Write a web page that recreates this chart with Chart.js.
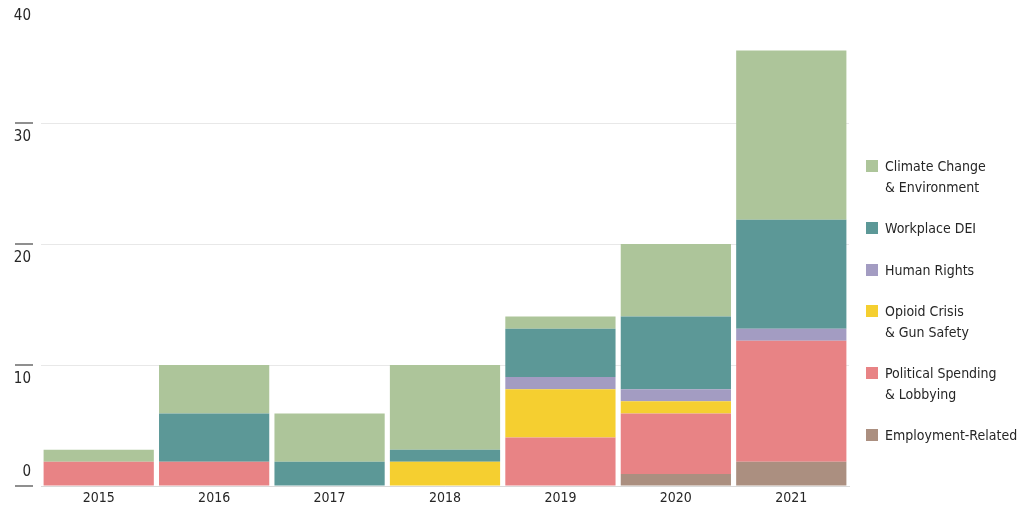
<!DOCTYPE html>
<html>
<head>
<meta charset="utf-8">
<script src="https://cdn.jsdelivr.net/npm/chart.js@4/dist/chart.umd.min.js"></script>
<style>
  html, body { margin: 0; padding: 0; background: #ffffff; }
  #wrap { position: relative; width: 1024px; height: 512px; overflow: hidden; }
  #legend { position: absolute; left: 866px; top: 156px; font-family: "Liberation Sans Narrow", "DejaVu Sans Condensed", "Roboto", sans-serif; font-size: 14px; line-height: 20.5px; color: #262626; white-space: nowrap; }
  .item { display: flex; align-items: flex-start; margin-bottom: 21px; }
  .box { width: 12px; height: 12px; margin-top: 4px; margin-right: 7px; flex: none; }
</style>
</head>
<body>
<div id="wrap">
  <canvas id="c"></canvas>
  <div id="legend"></div>
</div>
<script>
const years = ['2015', '2016', '2017', '2018', '2019', '2020', '2021'];
const yTicks = [0, 10, 20, 30, 40];

const employment = [0, 0, 0, 0, 0, 1, 2];
const political  = [2, 2, 0, 0, 4, 5, 10];
const opioid     = [0, 0, 0, 2, 4, 1, 0];
const humanRights= [0, 0, 0, 0, 1, 1, 1];
const dei        = [0, 4, 2, 1, 4, 6, 9];
const climate    = [1, 4, 4, 7, 1, 6, 14];

const seriesLabels = ['Employment-Related', 'Political Spending\n& Lobbying', 'Opioid Crisis\n& Gun Safety', 'Human Rights', 'Workplace DEI', 'Climate Change\n& Environment'];
const seriesColors = ['#ab8f80', '#e88385', '#f5cf30', '#a39cc2', '#5c9897', '#adc59a'];
const seriesData = [employment, political, opioid, humanRights, dei, climate];

const FONT = '"Liberation Sans Narrow", "DejaVu Sans Condensed", Roboto, sans-serif';

const datasets = seriesData.map((d, i) => ({
  label: seriesLabels[i],
  data: d,
  backgroundColor: seriesColors[i],
  borderWidth: 0,
  barPercentage: 0.955,
  categoryPercentage: 1.0
}));

const tickDashes = {
  id: 'tickDashes',
  afterDraw(chart) {
    const ys = chart.scales.y;
    const ctx = chart.ctx;
    const left = chart.chartArea.left;
    ctx.save();
    ctx.strokeStyle = '#8f8f8f';
    ctx.lineWidth = 2;
    ys.ticks.forEach((t) => {
      if (t.value === 40) return;
      const y = ys.getPixelForValue(t.value);
      ctx.beginPath();
      ctx.moveTo(left - 26, y);
      ctx.lineTo(left - 8, y);
      ctx.stroke();
    });
    ctx.restore();
  }
};

const chart = new Chart(document.getElementById('c'), {
  type: 'bar',
  data: { labels: years, datasets },
  plugins: [tickDashes],
  options: {
    responsive: true,
    maintainAspectRatio: false,
    animation: false,
    layout: { padding: { left: 0, right: 175, top: 2, bottom: 0 } },
    plugins: { legend: { display: false }, tooltip: { enabled: false } },
    scales: {
      x: {
        stacked: true,
        grid: { display: false, drawTicks: false },
        border: { display: true, color: '#d9d9d9', width: 1 },
        ticks: { color: '#262626', font: { family: FONT, size: 14 }, padding: 4 },
        afterFit(s) { s.height = 26; }
      },
      y: {
        stacked: true,
        min: 0,
        max: 40,
        afterBuildTicks(s) { s.ticks = yTicks.map(v => ({ value: v })); },
        grid: {
          drawTicks: false,
          color: (c) => (c.tick && c.tick.value === 40) ? 'rgba(0,0,0,0)' : '#e8e8e8',
          lineWidth: 1
        },
        border: { display: false },
        ticks: {
          color: '#262626',
          font: { family: FONT, size: 15, lineHeight: 1.9 },
          padding: 10,
          callback: (v) => v === 0 ? [String(v), ''] : ['', String(v)]
        },
        afterFit(s) { s.width = 41; s.paddingTop = 0; s.paddingBottom = 0; }
      }
    }
  }
});

// HTML legend, top-down order (reverse of stacking)
const legendEl = document.getElementById('legend');
for (let i = datasets.length - 1; i >= 0; i--) {
  const item = document.createElement('div');
  item.className = 'item';
  const box = document.createElement('span');
  box.className = 'box';
  box.style.background = datasets[i].backgroundColor;
  const txt = document.createElement('span');
  datasets[i].label.split('\n').forEach((line, k) => {
    if (k) txt.appendChild(document.createElement('br'));
    txt.appendChild(document.createTextNode(line));
  });
  item.appendChild(box);
  item.appendChild(txt);
  legendEl.appendChild(item);
}
</script>
</body>
</html>
